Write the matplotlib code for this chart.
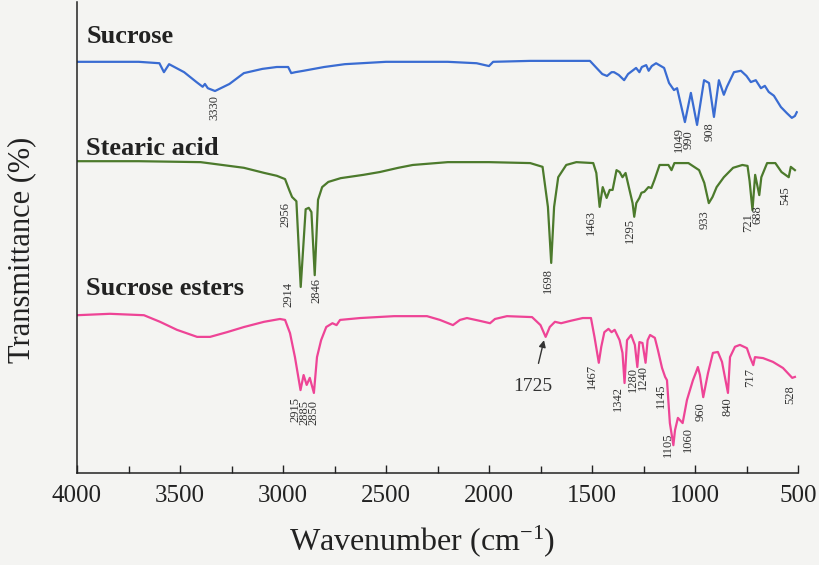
import matplotlib
matplotlib.use("Agg")
import matplotlib.pyplot as plt
import numpy as np

plt.rcParams['font.family'] = ['Liberation Serif', 'DejaVu Serif']
plt.rcParams['mathtext.default'] = 'regular'

# ---- FTIR spectra (wavenumber in cm-1, stacked transmittance in %) ----
sucrose_wn = [4000, 3700, 3600, 3578, 3553, 3480, 3420, 3390, 3379, 3365, 3330, 3260, 3190,
              3100, 3030, 2975, 2960, 2940, 2900, 2800, 2700, 2500, 2200, 2060, 2000, 1980,
              1800, 1510, 1478, 1450, 1427, 1405, 1393, 1370, 1344, 1325, 1286, 1270, 1258,
              1237, 1225, 1210, 1189, 1150, 1126, 1102, 1087, 1049, 1020, 990, 956, 932, 908,
              884, 860, 845, 811, 777, 750, 729, 705, 680, 661, 642, 617, 583, 554, 530, 515, 506]
sucrose_t = [87.3, 87.3, 87.0, 85.1, 86.8, 85.1, 83.0, 82.0, 82.6, 81.7, 81.1, 82.6, 84.9,
             85.8, 86.2, 86.2, 84.9, 85.1, 85.4, 86.2, 86.8, 87.3, 87.3, 87.0, 86.4, 87.3,
             87.5, 87.5, 86.0, 84.7, 84.3, 85.1, 85.1, 84.5, 83.4, 84.7, 86.0, 85.1, 86.2,
             86.6, 85.4, 86.4, 87.0, 86.0, 82.8, 81.3, 81.7, 74.5, 80.7, 73.9, 83.4, 82.8, 75.6,
             83.4, 80.3, 82.0, 85.1, 85.4, 84.3, 83.0, 83.4, 81.7, 82.2, 80.9, 80.1, 77.7, 76.4, 75.4, 75.8, 76.6]

stearic_wn = [4000, 3700, 3400, 3190, 3090, 3030, 2990, 2970, 2956, 2935, 2914, 2890, 2875,
              2862, 2846, 2830, 2810, 2780, 2720, 2610, 2530, 2440, 2370, 2200, 2000, 1800,
              1740, 1714, 1698, 1684, 1664, 1625, 1576, 1494, 1479, 1463, 1448, 1429, 1414,
              1400, 1381, 1366, 1352, 1337, 1318, 1303, 1295, 1285, 1270, 1260, 1246, 1226,
              1212, 1197, 1172, 1129, 1114, 1100, 1032, 980, 955, 933, 915, 895, 860, 815,
              770, 745, 735, 721, 708, 688, 678, 650, 610, 580, 545, 535, 515]
stearic_t = [66.2, 66.2, 66.0, 64.8, 63.7, 63.1, 62.4, 60.1, 58.6, 57.7, 39.5, 56.0, 56.3,
             55.4, 42.0, 58.0, 60.7, 61.8, 62.6, 63.3, 63.9, 64.8, 65.4, 66.0, 66.0, 65.8,
             65.0, 56.5, 44.6, 56.5, 62.8, 65.4, 66.0, 65.8, 63.7, 56.5, 60.7, 58.4, 60.1,
             60.1, 64.3, 63.9, 62.8, 63.7, 60.1, 57.3, 54.4, 57.3, 58.4, 59.5, 59.7, 60.7,
             60.5, 62.2, 65.4, 65.4, 64.3, 65.8, 65.8, 64.3, 61.6, 57.3, 58.6, 60.7, 62.8, 64.8,
             65.4, 65.2, 62.0, 55.8, 63.3, 59.0, 62.8, 65.8, 65.8, 63.9, 62.8, 65.0, 64.3]

esters_wn = [4000, 3840, 3675, 3597, 3515, 3417, 3354, 3272, 3189, 3092, 3015, 2990, 2966,
             2942, 2915, 2900, 2885, 2870, 2850, 2835, 2815, 2790, 2760, 2740, 2723, 2626,
             2461, 2301, 2238, 2175, 2141, 2107, 2044, 1995, 1971, 1913, 1791, 1750, 1725,
             1705, 1680, 1650, 1605, 1545, 1505, 1488, 1467, 1455, 1440, 1420, 1405, 1390,
             1366, 1352, 1342, 1330, 1310, 1292, 1280, 1270, 1255, 1240, 1230, 1218, 1195,
             1180, 1160, 1145, 1136, 1122, 1105, 1097, 1083, 1060, 1039, 1010, 995, 986, 976,
             960, 937, 913, 889, 869, 840, 830, 806, 782, 748, 733, 717, 709, 670, 622, 573, 528, 515]
esters_t = [33.5, 33.8, 33.5, 32.1, 30.4, 28.9, 28.9, 29.9, 31.0, 32.1, 32.7, 32.5, 29.7,
            24.6, 17.6, 20.8, 18.7, 20.2, 17.0, 24.6, 28.2, 31.0, 31.8, 31.4, 32.5, 32.9,
            33.3, 33.3, 32.5, 31.4, 32.5, 32.9, 32.3, 31.8, 32.7, 33.3, 33.1, 31.4, 28.9,
            31.0, 32.1, 31.8, 32.3, 32.9, 32.9, 28.9, 23.4, 26.8, 29.9, 30.6, 29.9, 30.4,
            28.2, 25.5, 19.1, 28.2, 29.3, 27.2, 22.5, 27.8, 27.6, 23.4, 28.2, 29.3, 28.7,
            26.1, 22.3, 20.4, 19.7, 10.6, 5.9, 9.1, 11.7, 10.6, 15.5, 19.7, 21.4, 22.5, 20.8,
            16.1, 21.2, 25.5, 25.7, 23.6, 17.0, 24.6, 26.8, 27.2, 26.5, 24.6, 22.9, 24.6, 24.4,
            23.6, 22.3, 20.2, 20.4]

series_names = ["Sucrose", "Stearic acid", "Sucrose esters"]
series_colors = ["#3a6cd2", "#4c7a2c", "#ee4496"]

# peak labels: text, label x (cm-1), label top (transmittance)
sucrose_peaks = [("3330", 3335, 80.3), ("1049", 1078, 73.5), ("990", 1029, 72.8), ("908", 927, 74.5)]
stearic_peaks = [("2956", 2990, 57.5), ("2914", 2976, 40.6), ("2846", 2840, 41.4),
                 ("1698", 1714, 43.5), ("1463", 1505, 55.8), ("1295", 1316, 54.1),
                 ("933", 952, 55.8), ("721", 743, 55.2), ("688", 699, 56.9), ("545", 563, 60.9)]
esters_peaks = [("2915", 2940, 16.1), ("2885", 2896, 15.5), ("2850", 2852, 15.5),
                ("1467", 1500, 23.1), ("1342", 1376, 18.5), ("1280", 1300, 22.5),
                ("1240", 1252, 22.9), ("1145", 1165, 19.1), ("1105", 1131, 8.7),
                ("1060", 1034, 9.8), ("960", 971, 15.1), ("840", 840, 16.1),
                ("717", 733, 22.3), ("528", 539, 18.7)]
ester_carbonyl = "1725"
x_ticks = [4000, 3500, 3000, 2500, 2000, 1500, 1000, 500]

W, H = 820, 565
fig = plt.figure(figsize=(W / 100, H / 100), dpi=100)
bg = "#f4f4f2"
fig.patch.set_facecolor(bg)
ax = fig.add_axes([77 / W, (H - 473) / H, (798 - 77) / W, 471 / H])
ax.set_facecolor(bg)

for wn, t, c in [(sucrose_wn, sucrose_t, series_colors[0]),
                 (stearic_wn, stearic_t, series_colors[1]),
                 (esters_wn, esters_t, series_colors[2])]:
    ax.plot(wn, t, color=c, lw=1.6, solid_joinstyle='round')

ax.set_xlim(4000, 500)
ax.set_ylim(0, 100)
ax.set_xticks(x_ticks)
ax.set_xticks(np.arange(500, 4001, 250), minor=True)
ax.set_yticks([])
ax.tick_params(axis='x', which='major', direction='in', length=6, width=1.0,
               labelsize=18, pad=9, colors='#222222')
ax.tick_params(axis='x', which='minor', direction='in', length=5, width=1.0, colors='#222222')
for s in ['top', 'right']:
    ax.spines[s].set_visible(False)
for s in ['left', 'bottom']:
    ax.spines[s].set_linewidth(1.1)
    ax.spines[s].set_color('#222222')

# series titles
for name, ypos in zip(series_names, [91.3, 67.5, 37.8]):
    ax.text(3955, ypos, name, fontsize=19, fontweight='bold', ha='left', va='baseline',
            color='#222222')

# peak labels
for peaks in (sucrose_peaks, stearic_peaks, esters_peaks):
    for txt, xp, yp in peaks:
        ax.text(xp, yp, txt, rotation=90, fontsize=9, ha='center', va='top', color='#333333')

ax.annotate(ester_carbonyl, xy=(1733, 28.2), xytext=(1787, 18.3), fontsize=14,
            ha='center', va='center', color='#333333',
            arrowprops=dict(arrowstyle='-|>', color='#333333', lw=1.0,
                            mutation_scale=10, shrinkA=9, shrinkB=0))

fig.text(422 / W, 1 - 541 / H, r'Wavenumber (cm$^{-1}$)', fontsize=23, ha='center',
         va='center', color='#222222')
fig.text(22 / W, 1 - 250 / H, 'Transmittance (%)', fontsize=22, rotation=90,
         ha='center', va='center', color='#222222')

fig.savefig("out.png", dpi=100, facecolor=bg)
